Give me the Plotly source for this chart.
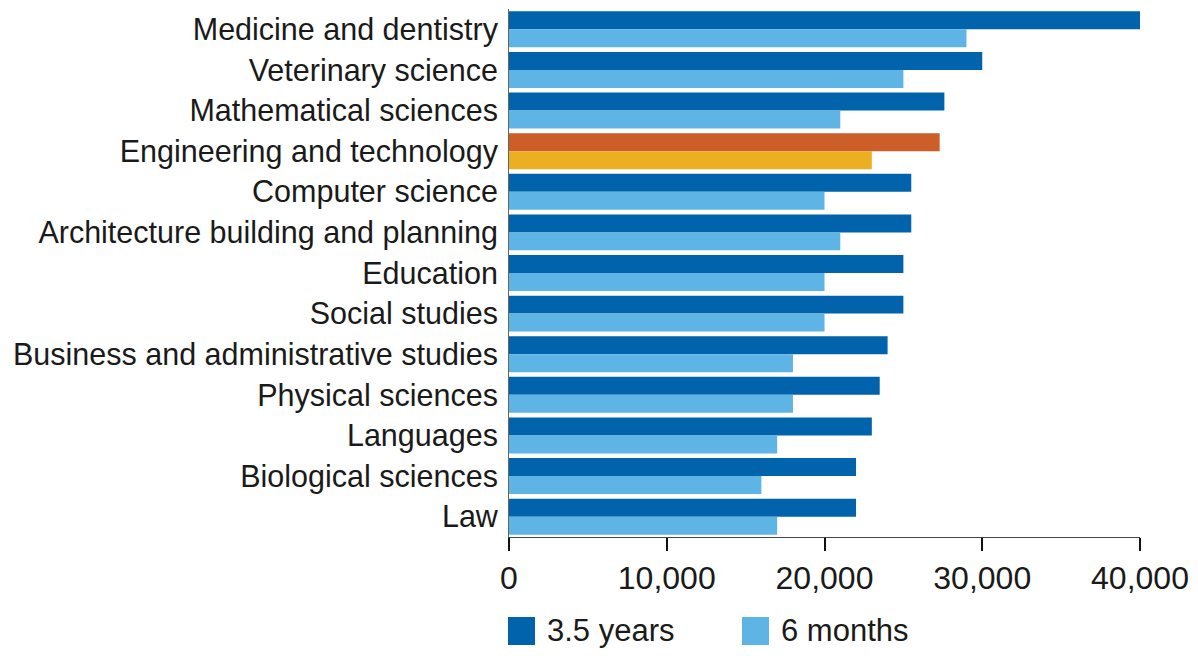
import plotly.graph_objects as go

categories = [
    "Medicine and dentistry", "Veterinary science", "Mathematical sciences",
    "Engineering and technology", "Computer science",
    "Architecture building and planning", "Education", "Social studies",
    "Business and administrative studies", "Physical sciences", "Languages",
    "Biological sciences", "Law",
]
years_3_5 = [40000, 30000, 27600, 27300, 25500, 25500, 25000, 25000, 24000, 23500, 23000, 22000, 22000]
months_6 = [29000, 25000, 21000, 23000, 20000, 21000, 20000, 20000, 18000, 18000, 17000, 16000, 17000]
series_names = ["3.5 years", "6 months"]
highlight = "Engineering and technology"
x_ticks = [0, 10000, 20000, 30000, 40000]
x_tick_labels = ["0", "10,000", "20,000", "30,000", "40,000"]

DARK = "#0063ab"
LIGHT = "#5eb4e4"
HI_DARK = "#cc5e29"
HI_LIGHT = "#ecae22"

c1 = [HI_DARK if c == highlight else DARK for c in categories]
c2 = [HI_LIGHT if c == highlight else LIGHT for c in categories]

FONT = "Liberation Sans, Arial, sans-serif"
TXT = "#1a1a1a"

fig = go.Figure()
fig.add_trace(go.Bar(y=categories, x=years_3_5, orientation="h", name=series_names[0],
                     marker=dict(color=c1, line=dict(width=0)), showlegend=False))
fig.add_trace(go.Bar(y=categories, x=months_6, orientation="h", name=series_names[1],
                     marker=dict(color=c2, line=dict(width=0)), showlegend=False))

OFF = 8  # page body margin
W, H = 1198 - 2 * OFF, 656 - 2 * OFF
ml = 509 - OFF
mt = 9 - OFF
plot_right = 1140 - OFF
plot_bottom = 537 - OFF
mr = W - plot_right
mb = H - plot_bottom
ph = H - mt - mb
pw = W - ml - mr

def py(p):
    # p is a screen pixel y
    return (plot_bottom - (p - OFF)) / ph

def px(p):
    return ((p - OFF) - ml) / pw

# manual legend
legend_items = [(508, DARK, series_names[0]), (742, LIGHT, series_names[1])]
shapes = []
annotations = []
for x0, col, name in legend_items:
    shapes.append(dict(type="rect", xref="paper", yref="paper",
                       x0=px(x0), x1=px(x0 + 27), y0=py(645), y1=py(617),
                       fillcolor=col, line=dict(width=0)))
    annotations.append(dict(xref="paper", yref="paper", x=px(x0 + 37), y=py(630),
                            xanchor="left", yanchor="middle", text=name, showarrow=False,
                            font=dict(family=FONT, size=31, color=TXT)))

fig.update_layout(
    width=W, height=H,
    margin=dict(l=ml, r=mr, t=mt, b=mb, pad=0, autoexpand=False),
    paper_bgcolor="white", plot_bgcolor="white",
    barmode="group", bargap=0.115, bargroupgap=0,
    font=dict(family=FONT, size=31, color=TXT),
    showlegend=False,
    shapes=shapes, annotations=annotations,
    xaxis=dict(range=[0, 40000], tickvals=x_ticks, ticktext=x_tick_labels,
               showgrid=False, zeroline=False, showline=True, linecolor="#444",
               linewidth=1, ticks="outside", ticklen=13, tickwidth=2, tickcolor="#111",
               tickfont=dict(family=FONT, size=32, color=TXT), fixedrange=True,
               automargin=False),
    yaxis=dict(autorange="reversed", showgrid=False, zeroline=False, showline=True,
               linecolor="#666", linewidth=1, ticks="outside", ticklen=4,
               tickcolor="rgba(0,0,0,0)", tickfont=dict(family=FONT, size=30.5, color=TXT),
               automargin=False),
)

fig.write_html("out.html")
